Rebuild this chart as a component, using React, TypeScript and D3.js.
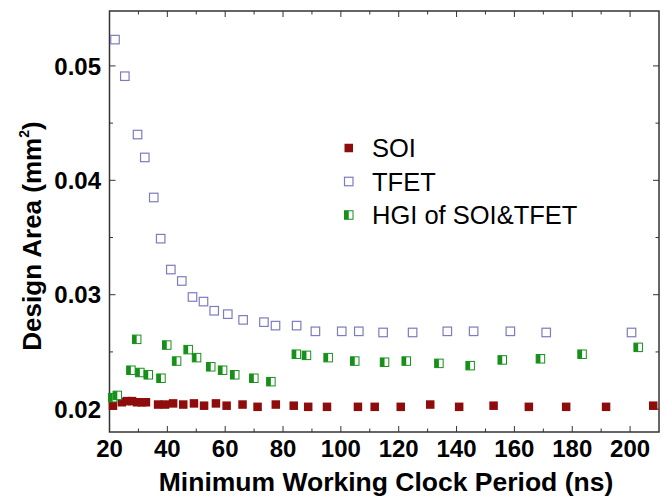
import React from 'react';
import * as d3 from 'd3';

const soiX = [21.2, 24.3, 26.0, 27.8, 29.5, 31.2, 32.6, 36.8, 39.2, 42.0, 45.5, 49.2, 52.7, 56.8, 60.5, 66.0, 71.2, 77.5, 83.7, 88.7, 95.2, 105.9, 111.7, 120.7, 130.9, 140.9, 152.8, 165.0, 177.9, 191.7, 208.0];
const soiY = [0.0203, 0.0206, 0.0207, 0.0207, 0.0206, 0.0206, 0.0206, 0.0204, 0.0204, 0.0205, 0.0204, 0.0205, 0.0203, 0.0205, 0.0203, 0.0204, 0.0202, 0.0204, 0.0203, 0.0202, 0.0202, 0.0202, 0.0202, 0.0202, 0.0204, 0.0202, 0.0203, 0.0202, 0.0202, 0.0202, 0.0203];

const tfetX = [21.9, 25.3, 29.7, 32.2, 35.3, 37.7, 41.2, 45.0, 48.7, 52.5, 56.2, 60.9, 66.2, 73.4, 77.4, 84.7, 91.2, 100.3, 106.2, 114.6, 124.8, 136.8, 145.9, 158.6, 171.0, 200.5];
const tfetY = [0.0523, 0.0491, 0.0440, 0.0420, 0.0385, 0.0349, 0.0322, 0.0312, 0.0298, 0.0294, 0.0286, 0.0283, 0.0278, 0.0276, 0.0273, 0.0273, 0.0268, 0.0268, 0.0268, 0.0267, 0.0267, 0.0268, 0.0268, 0.0268, 0.0267, 0.0267];

const hgiX = [21.1, 22.7, 27.4, 29.4, 30.5, 33.4, 37.8, 39.8, 43.2, 47.2, 50.1, 55.0, 59.1, 63.3, 69.9, 75.8, 84.6, 88.1, 95.6, 104.8, 115.1, 122.6, 133.9, 144.7, 155.8, 169.0, 183.4, 202.8];
const hgiY = [0.0210, 0.0212, 0.0234, 0.0261, 0.0232, 0.0230, 0.0227, 0.0256, 0.0242, 0.0252, 0.0245, 0.0237, 0.0234, 0.0230, 0.0227, 0.0224, 0.0248, 0.0247, 0.0245, 0.0242, 0.0241, 0.0242, 0.0240, 0.0238, 0.0243, 0.0244, 0.0248, 0.0254];

const xTicks = [20, 40, 60, 80, 100, 120, 140, 160, 180, 200];
const yTicks = [0.02, 0.03, 0.04, 0.05];
const legendNames = ['SOI', 'TFET', 'HGI of SOI&TFET'];

const red = '#8e0c0c';
const blue = '#7c7cbe';
const green = '#17901a';
const font = '"Liberation Sans", Arial, sans-serif';

const left = 109.5, right = 659, top = 11, bottom = 432;
const x = d3.scaleLinear().domain([20, 210]).range([left, right]);
const y = d3.scaleLinear().domain([0.018, 0.0548]).range([bottom, top]);
const s = 8.5;

const HalfSquare = ({ cx, cy }: { cx: number; cy: number }) => (
  <g>
    <rect x={cx - s / 2} y={cy - s / 2} width={s} height={s} fill="#fff" stroke={green} strokeWidth={1} />
    <rect x={cx - s / 2} y={cy - s / 2} width={s / 2} height={s} fill={green} />
  </g>
);

export default function App() {
  const xMinor = d3.range(30, 210, 20);
  const yMinor = [0.025, 0.035, 0.045];
  const major = 6, minor = 3.5;

  return (
    <div style={{ position: 'absolute', left: 0, top: 0 }}>
      <svg width={667} height={497} style={{ display: 'block', background: '#fff' }}>
        <rect x={left} y={top} width={right - left} height={bottom - top} fill="none" stroke="#333" strokeWidth={1.5} />

        {xTicks.map(t => (
          <g key={'xt' + t}>
            <line x1={x(t)} x2={x(t)} y1={bottom} y2={bottom - major} stroke="#333" />
            <line x1={x(t)} x2={x(t)} y1={top} y2={top + major} stroke="#333" />
            <text x={x(t)} y={457} textAnchor="middle" fontFamily={font} fontWeight="bold" fontSize={24} fill="#000">{t}</text>
          </g>
        ))}
        {xMinor.map(t => (
          <g key={'xm' + t}>
            <line x1={x(t)} x2={x(t)} y1={bottom} y2={bottom - minor} stroke="#333" />
            <line x1={x(t)} x2={x(t)} y1={top} y2={top + minor} stroke="#333" />
          </g>
        ))}
        {yTicks.map(t => (
          <g key={'yt' + t}>
            <line x1={left} x2={left + major} y1={y(t)} y2={y(t)} stroke="#333" />
            <line x1={right} x2={right - major} y1={y(t)} y2={y(t)} stroke="#333" />
            <text x={101} y={y(t)} dy="0.36em" textAnchor="end" fontFamily={font} fontWeight="bold" fontSize={24} fill="#000">{t.toFixed(2)}</text>
          </g>
        ))}
        {yMinor.map(t => (
          <g key={'ym' + t}>
            <line x1={left} x2={left + minor} y1={y(t)} y2={y(t)} stroke="#333" />
            <line x1={right} x2={right - minor} y1={y(t)} y2={y(t)} stroke="#333" />
          </g>
        ))}

        <text x={386} y={491} textAnchor="middle" fontFamily={font} fontWeight="bold" fontSize={26.5} fill="#000">
          Minimum Working Clock Period (ns)
        </text>
        <text transform="translate(41,236) rotate(-90)" textAnchor="middle" fontFamily={font} fontWeight="bold" fontSize={26} fill="#000">
          Design Area (mm<tspan dy={-12} fontSize={14}>2</tspan><tspan dy={12}>)</tspan>
        </text>

        {soiX.map((v, i) => (
          <rect key={'s' + i} x={x(v) - s / 2} y={y(soiY[i]) - s / 2} width={s} height={s} fill={red} />
        ))}
        {tfetX.map((v, i) => (
          <rect key={'t' + i} x={x(v) - s / 2} y={y(tfetY[i]) - s / 2} width={s} height={s} fill="#fff" stroke={blue} strokeWidth={1.2} />
        ))}
        {hgiX.map((v, i) => (
          <HalfSquare key={'h' + i} cx={x(v)} cy={y(hgiY[i])} />
        ))}

        {legendNames.map((n, i) => {
          const ly = 148 + i * 33.5;
          return (
            <g key={n}>
              {i === 0 && <rect x={344.5} y={ly - s / 2} width={s} height={s} fill={red} />}
              {i === 1 && <rect x={344.5} y={ly - s / 2} width={s} height={s} fill="#fff" stroke={blue} strokeWidth={1.2} />}
              {i === 2 && <HalfSquare cx={348.75} cy={ly} />}
              <text x={372} y={ly} dy="0.36em" fontFamily={font} fontSize={25.5} fill="#000">{n}</text>
            </g>
          );
        })}
      </svg>
    </div>
  );
}
